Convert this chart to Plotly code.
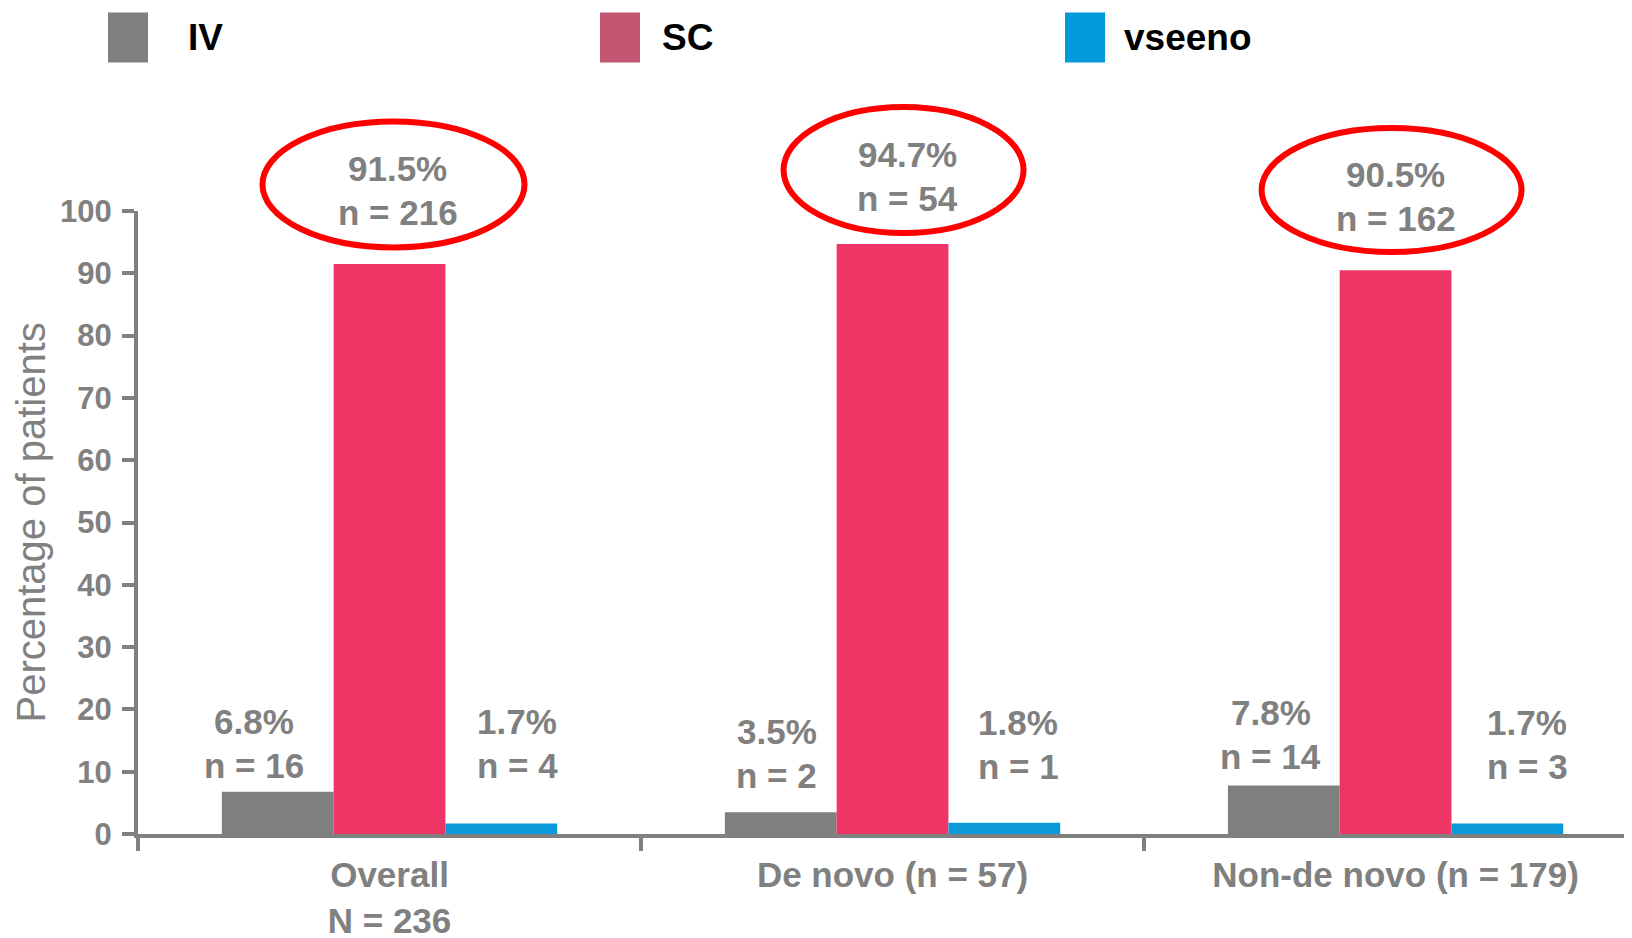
import plotly.graph_objects as go

# data
categories = ["Overall<br>N = 236", "De novo (n = 57)", "Non-de novo (n = 179)"]
series = ["IV", "SC", "vseeno"]
iv_pct = [6.8, 3.5, 7.8]
sc_pct = [91.5, 94.7, 90.5]
vseeno_pct = [1.7, 1.8, 1.7]
iv_n = [16, 2, 14]
sc_n = [216, 54, 162]
vseeno_n = [4, 1, 3]
y_ticks = list(range(0, 101, 10))

bar_colors = ["#7f7f7f", "#ee3566", "#0a9ad9"]
legend_colors = ["#7f7f7f", "#c25673", "#009ad9"]
GREY = "#808080"
FONT = "Liberation Sans, Arial, sans-serif"

# page geometry (pixels); the html body adds an 8px margin
OFF = 8
W, H = 1632 - OFF, 938 - OFF
L, T, B = 138 - OFF, 211 - OFF, 104
PW, PH = W - L, H - T - B
x_range = [-0.5, 2.47]
span = x_range[1] - x_range[0]

# label placement: height (y units) of the label block centre, and nudge in px
label_y = [[14.45, 12.85, 15.9], [103.3, 105.6, 102.4], [14.45, 14.3, 14.3]]
label_dx = [[-24, -4, -13], [8, 15, 0], [16, 14, 20]]
ring_w = [131, 120, 130]
ring_h = [63, 63, 62]

bargap = 1 / 3
bw = (1 - bargap) / 3


def paper(px, py):
    # page pixel -> paper coords
    return (px - OFF - L) / PW, (T + PH - (py - OFF)) / PH


fig = go.Figure()
pcts = [iv_pct, sc_pct, vseeno_pct]
ns = [iv_n, sc_n, vseeno_n]
for s, name in enumerate(series):
    fig.add_trace(go.Bar(
        x=categories, y=pcts[s], name=name, marker_color=bar_colors[s],
        marker_line_width=0, showlegend=False
    ))

annotations = []
shapes = []
lab_font = dict(family=FONT, size=35, color=GREY, weight="bold")
for s in range(3):
    for i in range(3):
        xc = i + (s - 1) * bw
        xp = (xc - x_range[0]) / span
        yp = label_y[s][i] / 100
        for line, dy in ((f"{pcts[s][i]}%", 22), (f"n = {ns[s][i]}", -22)):
            annotations.append(dict(
                x=xp, y=yp, xref="paper", yref="paper",
                xshift=label_dx[s][i], yshift=dy, text=line, showarrow=False,
                font=lab_font, xanchor="center", yanchor="middle"
            ))
        if s == 1:
            cx = xp + (label_dx[s][i] - 4) / PW
            cy = yp + 6 / PH
            shapes.append(dict(
                type="circle", xref="paper", yref="paper",
                xsizemode="pixel", ysizemode="pixel", xanchor=cx, yanchor=cy,
                x0=-ring_w[i], x1=ring_w[i], y0=-ring_h[i], y1=ring_h[i],
                line=dict(color="#ff0000", width=6)
            ))

# legend drawn by hand: tall swatches with black labels
legend_x = [108, 600, 1065]
legend_tx = [186, 660, 1122]
for s, name in enumerate(series):
    x0, y0 = paper(legend_x[s], 62.5)
    x1, y1 = paper(legend_x[s] + 40, 12.5)
    shapes.append(dict(type="rect", xref="paper", yref="paper", x0=x0, x1=x1, y0=y0, y1=y1,
                       fillcolor=legend_colors[s], line_width=0))
    tx, ty = paper(legend_tx[s], 37.5)
    annotations.append(dict(x=tx, y=ty, xref="paper", yref="paper", text=name, showarrow=False,
                            xanchor="left", yanchor="middle",
                            font=dict(family=FONT, size=37, color="black", weight="bold")))

# y axis title
tx, ty = paper(30, 522.5)
annotations.append(dict(x=tx, y=ty, xref="paper", yref="paper", text="Percentage of patients",
                        textangle=-90, showarrow=False, xanchor="center", yanchor="middle",
                        font=dict(family=FONT, size=40, color=GREY)))

fig.update_layout(
    width=W, height=H, autosize=False,
    margin=dict(l=L, r=0, t=T, b=B, pad=0),
    plot_bgcolor="white", paper_bgcolor="white",
    barmode="group", bargap=bargap, bargroupgap=0,
    xaxis=dict(
        range=x_range, showline=True, linecolor=GREY, linewidth=4,
        ticks="outside", tickson="boundaries", ticklen=13, tickwidth=4, tickcolor=GREY,
        tickfont=dict(family=FONT, size=35, color=GREY, weight="bold"),
        ticklabelstandoff=7, showgrid=False, zeroline=False, fixedrange=True,
        automargin=False
    ),
    yaxis=dict(
        range=[0, 100], tickvals=y_ticks, showline=True, linecolor=GREY, linewidth=4,
        ticks="outside", ticklen=12, tickwidth=4, tickcolor=GREY,
        tickfont=dict(family=FONT, size=31, color=GREY, weight="bold"),
        ticklabelstandoff=4, showgrid=False, zeroline=False, fixedrange=True,
        automargin=False
    ),
    annotations=annotations, shapes=shapes, showlegend=False
)

fig.write_html("out.html")
